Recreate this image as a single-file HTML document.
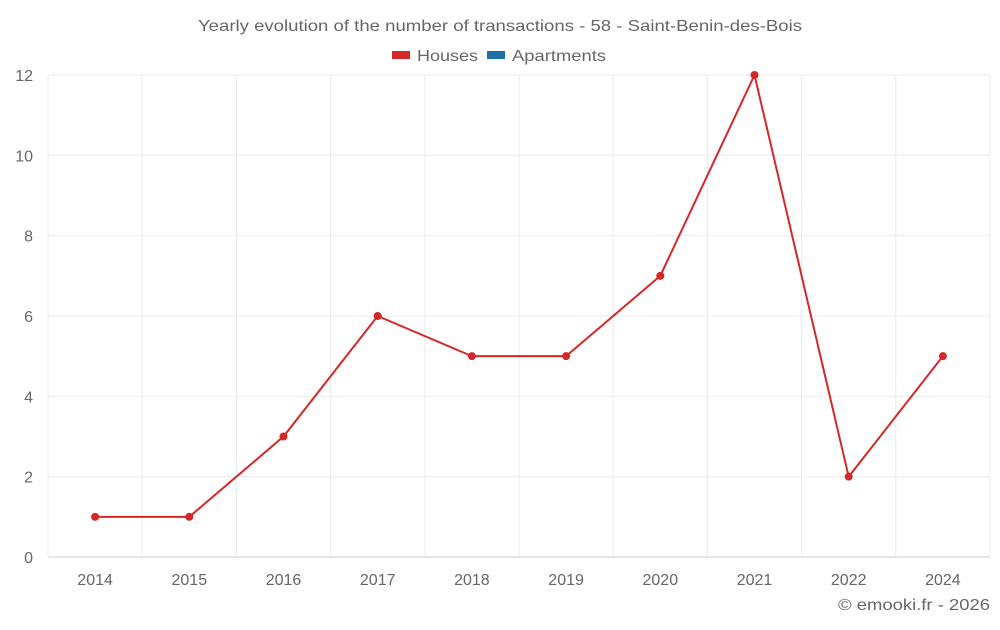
<!DOCTYPE html>
<html><head><meta charset="utf-8"><style>
body{margin:0;background:#fff;font-family:"Liberation Sans",sans-serif;}
svg text{font-family:"Liberation Sans",sans-serif;fill:#666;}
</style></head><body>
<svg id="chart" width="1000" height="625">
<text x="198" y="31" font-size="16" textLength="604" lengthAdjust="spacingAndGlyphs">Yearly evolution of the number of transactions - 58 - Saint-Benin-des-Bois</text>
<g>
<g><rect x="392" y="51" width="18" height="8" fill="#d62728"/><text x="417" y="61" font-size="16" textLength="61" lengthAdjust="spacingAndGlyphs">Houses</text></g>
<g><rect x="487" y="51" width="18" height="8" fill="#1f6fa8"/><text x="512" y="61" font-size="16" textLength="94" lengthAdjust="spacingAndGlyphs">Apartments</text></g>
</g>
<g id="grid"></g>
<g id="axes"></g>
<g id="series"></g>
<text x="838" y="610" font-size="16" textLength="152" lengthAdjust="spacingAndGlyphs">© emooki.fr - 2026</text>
</svg>
<script>
const categories=["2014","2015","2016","2017","2018","2019","2020","2021","2022","2024"];
const houses=[1,1,3,6,5,5,7,12,2,5];
const yTicks=[0,2,4,6,8,10,12];
const L=48,R=990,T=75,B=557,yMax=12;
const NS="http://www.w3.org/2000/svg";
const bw=(R-L)/categories.length;
const x=i=>L+bw*(i+0.5);
const y=v=>B-(B-T)*v/yMax;
function mk(tag,attrs,parent){const e=document.createElementNS(NS,tag);for(const k in attrs)e.setAttribute(k,attrs[k]);parent.appendChild(e);return e;}
const grid=document.getElementById('grid'),axes=document.getElementById('axes'),series=document.getElementById('series');
yTicks.forEach(v=>{
 if(v>0){const g=mk('line',{x1:L,x2:R,y1:y(v),y2:y(v),stroke:'#ebebeb'},grid);
 
 }
 const t=mk('text',{x:33,y:y(v)+6,'font-size':16,'text-anchor':'end'},axes);t.textContent=v;
 
 
});
for(let i=0;i<=categories.length;i++){
 const g=mk('line',{x1:L+bw*i,x2:L+bw*i,y1:T,y2:B,stroke:'#ebebeb'},grid);
 
 
}
categories.forEach((c,i)=>{
 const t=mk('text',{x:x(i),y:585,'font-size':16,'text-anchor':'middle'},axes);t.textContent=c;
 
 
});
const ax=mk('line',{x1:L,x2:R,y1:B,y2:B,stroke:'#ccc'},axes);


const pl=mk('polyline',{points:houses.map((v,i)=>x(i)+','+y(v)).join(' '),fill:'none',stroke:'#d62728','stroke-width':2},series);


houses.forEach((v,i)=>{
 const p=mk('circle',{cx:x(i),cy:y(v),r:4,fill:'#d62728'},series);
 
 
});
</script>
</body></html>
